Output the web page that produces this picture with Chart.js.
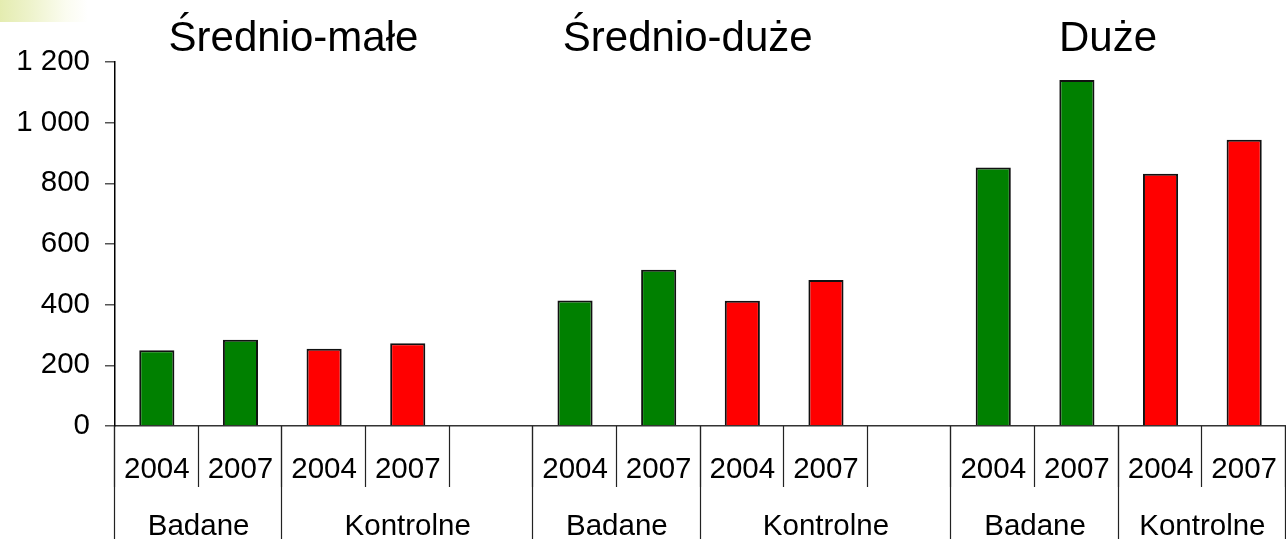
<!DOCTYPE html>
<html>
<head>
<meta charset="utf-8">
<script src="https://cdn.jsdelivr.net/npm/chart.js@4/dist/chart.umd.min.js"></script>
<style>
  html, body { margin: 0; padding: 0; background: #ffffff; }
  #wrap { position: relative; width: 1286px; height: 539px; }
  #deco { position: absolute; left: 0; top: 0; width: 88px; height: 22px;
          background: linear-gradient(to right, #e4ecb0 0%, #eef3cc 35%, #fbfcf0 75%, #ffffff 100%); }
  canvas { position: absolute; left: 0; top: 0; }
</style>
</head>
<body>
<div id="wrap">
  <div id="deco"></div>
  <canvas id="c" width="1286" height="539"></canvas>
</div>
<script>
// ---- data ----
const yearLabels = ['2004','2007','2004','2007','', '2004','2007','2004','2007','', '2004','2007','2004','2007'];
const badaneValues    = [250, 284, null, null, null, 414, 515, null, null, null, 852, 1141, null, null];
const kontrolneValues = [null, null, 255, 273, null, null, null, 413, 481, null, null, null, 832, 944];
const groupNames = ['Badane', 'Kontrolne', 'Badane', 'Kontrolne', 'Badane', 'Kontrolne'];
const groupStart = [0, 2, 5, 7, 10, 12];
const groupEnd   = [1, 4, 6, 9, 11, 13];
const sizeTitles = ['Średnio-małe', 'Średnio-duże', 'Duże'];
const yTickValues = [0, 200, 400, 600, 800, 1000, 1200];

const FONT = "'Liberation Sans', Arial, sans-serif";

function fmt(v) {
  if (v >= 1000) return Math.floor(v / 1000) + ' ' + String(v % 1000).padStart(3, '0');
  return String(v);
}

const titlePos = [293.5, 687.7, 1108]; // text annotation centres

const axisDecor = {
  id: 'axisDecor',
  afterDraw(chart) {
    const ctx = chart.ctx;
    const x = chart.scales.x;
    const area = chart.chartArea;
    const n = yearLabels.length;
    const half = (x.getPixelForValue(1) - x.getPixelForValue(0)) / 2;
    const top = area.bottom;
    const edge = i => Math.round(i < n ? x.getPixelForValue(i) - half : x.getPixelForValue(n - 1) + half) - 0.5;
    ctx.save();
    // year-row separators
    ctx.strokeStyle = '#222';
    ctx.lineWidth = 1.2;
    for (let i = 0; i <= n; i++) {
      const px = edge(i);
      ctx.beginPath();
      ctx.moveTo(px, top);
      ctx.lineTo(px, top + 61);
      ctx.stroke();
    }
    // group separators (full height)
    const bounds = new Set(groupStart);
    bounds.add(n);
    bounds.forEach(i => {
      const px = edge(i);
      ctx.beginPath();
      ctx.moveTo(px, top);
      ctx.lineTo(px, chart.height);
      ctx.stroke();
    });
    ctx.fillStyle = '#000';
    ctx.textAlign = 'center';
    ctx.textBaseline = 'alphabetic';
    // year labels
    ctx.font = '29.5px ' + FONT;
    yearLabels.forEach((lab, i) => { if (lab) ctx.fillText(lab, x.getPixelForValue(i), 478); });
    // group labels
    groupNames.forEach((g, k) => {
      const cx = (x.getPixelForValue(groupStart[k]) + x.getPixelForValue(groupEnd[k])) / 2;
      ctx.fillText(g, cx, 535);
    });
    // size-class titles
    ctx.font = '42px ' + FONT;
    sizeTitles.forEach((t, k) => ctx.fillText(t, titlePos[k], 51));
    ctx.restore();
  }
};

new Chart(document.getElementById('c'), {
  type: 'bar',
  data: {
    labels: yearLabels,
    datasets: [
      { label: 'Badane', data: badaneValues, backgroundColor: '#008000',
        borderColor: '#111', borderWidth: 2, grouped: false,
        barPercentage: 0.42, categoryPercentage: 1 },
      { label: 'Kontrolne', data: kontrolneValues, backgroundColor: '#ff0000',
        borderColor: '#111', borderWidth: 2, grouped: false,
        barPercentage: 0.42, categoryPercentage: 1 }
    ]
  },
  options: {
    responsive: false,
    animation: false,
    layout: { padding: { top: 62, left: 0, right: 0, bottom: 0 } },
    plugins: { legend: { display: false }, tooltip: { enabled: false }, title: { display: false } },
    scales: {
      x: {
        grid: { display: false, drawTicks: false },
        border: { display: true, color: '#333', width: 1.5 },
        ticks: { display: false },
        afterFit(s) { s.height = 113; }
      },
      y: {
        min: 0, max: 1200,
        afterBuildTicks(s) { s.ticks = yTickValues.map(v => ({ value: v })); },
        grid: { drawOnChartArea: false, drawTicks: true, tickLength: 10, color: '#555', lineWidth: 1.5 },
        border: { display: true, color: '#000', width: 1.5 },
        ticks: { color: '#000', font: { family: FONT, size: 29.5 }, padding: 15, callback: v => fmt(v) },
        afterFit(s) { s.width = 115; }
      }
    }
  },
  plugins: [axisDecor]
});
</script>
</body>
</html>
